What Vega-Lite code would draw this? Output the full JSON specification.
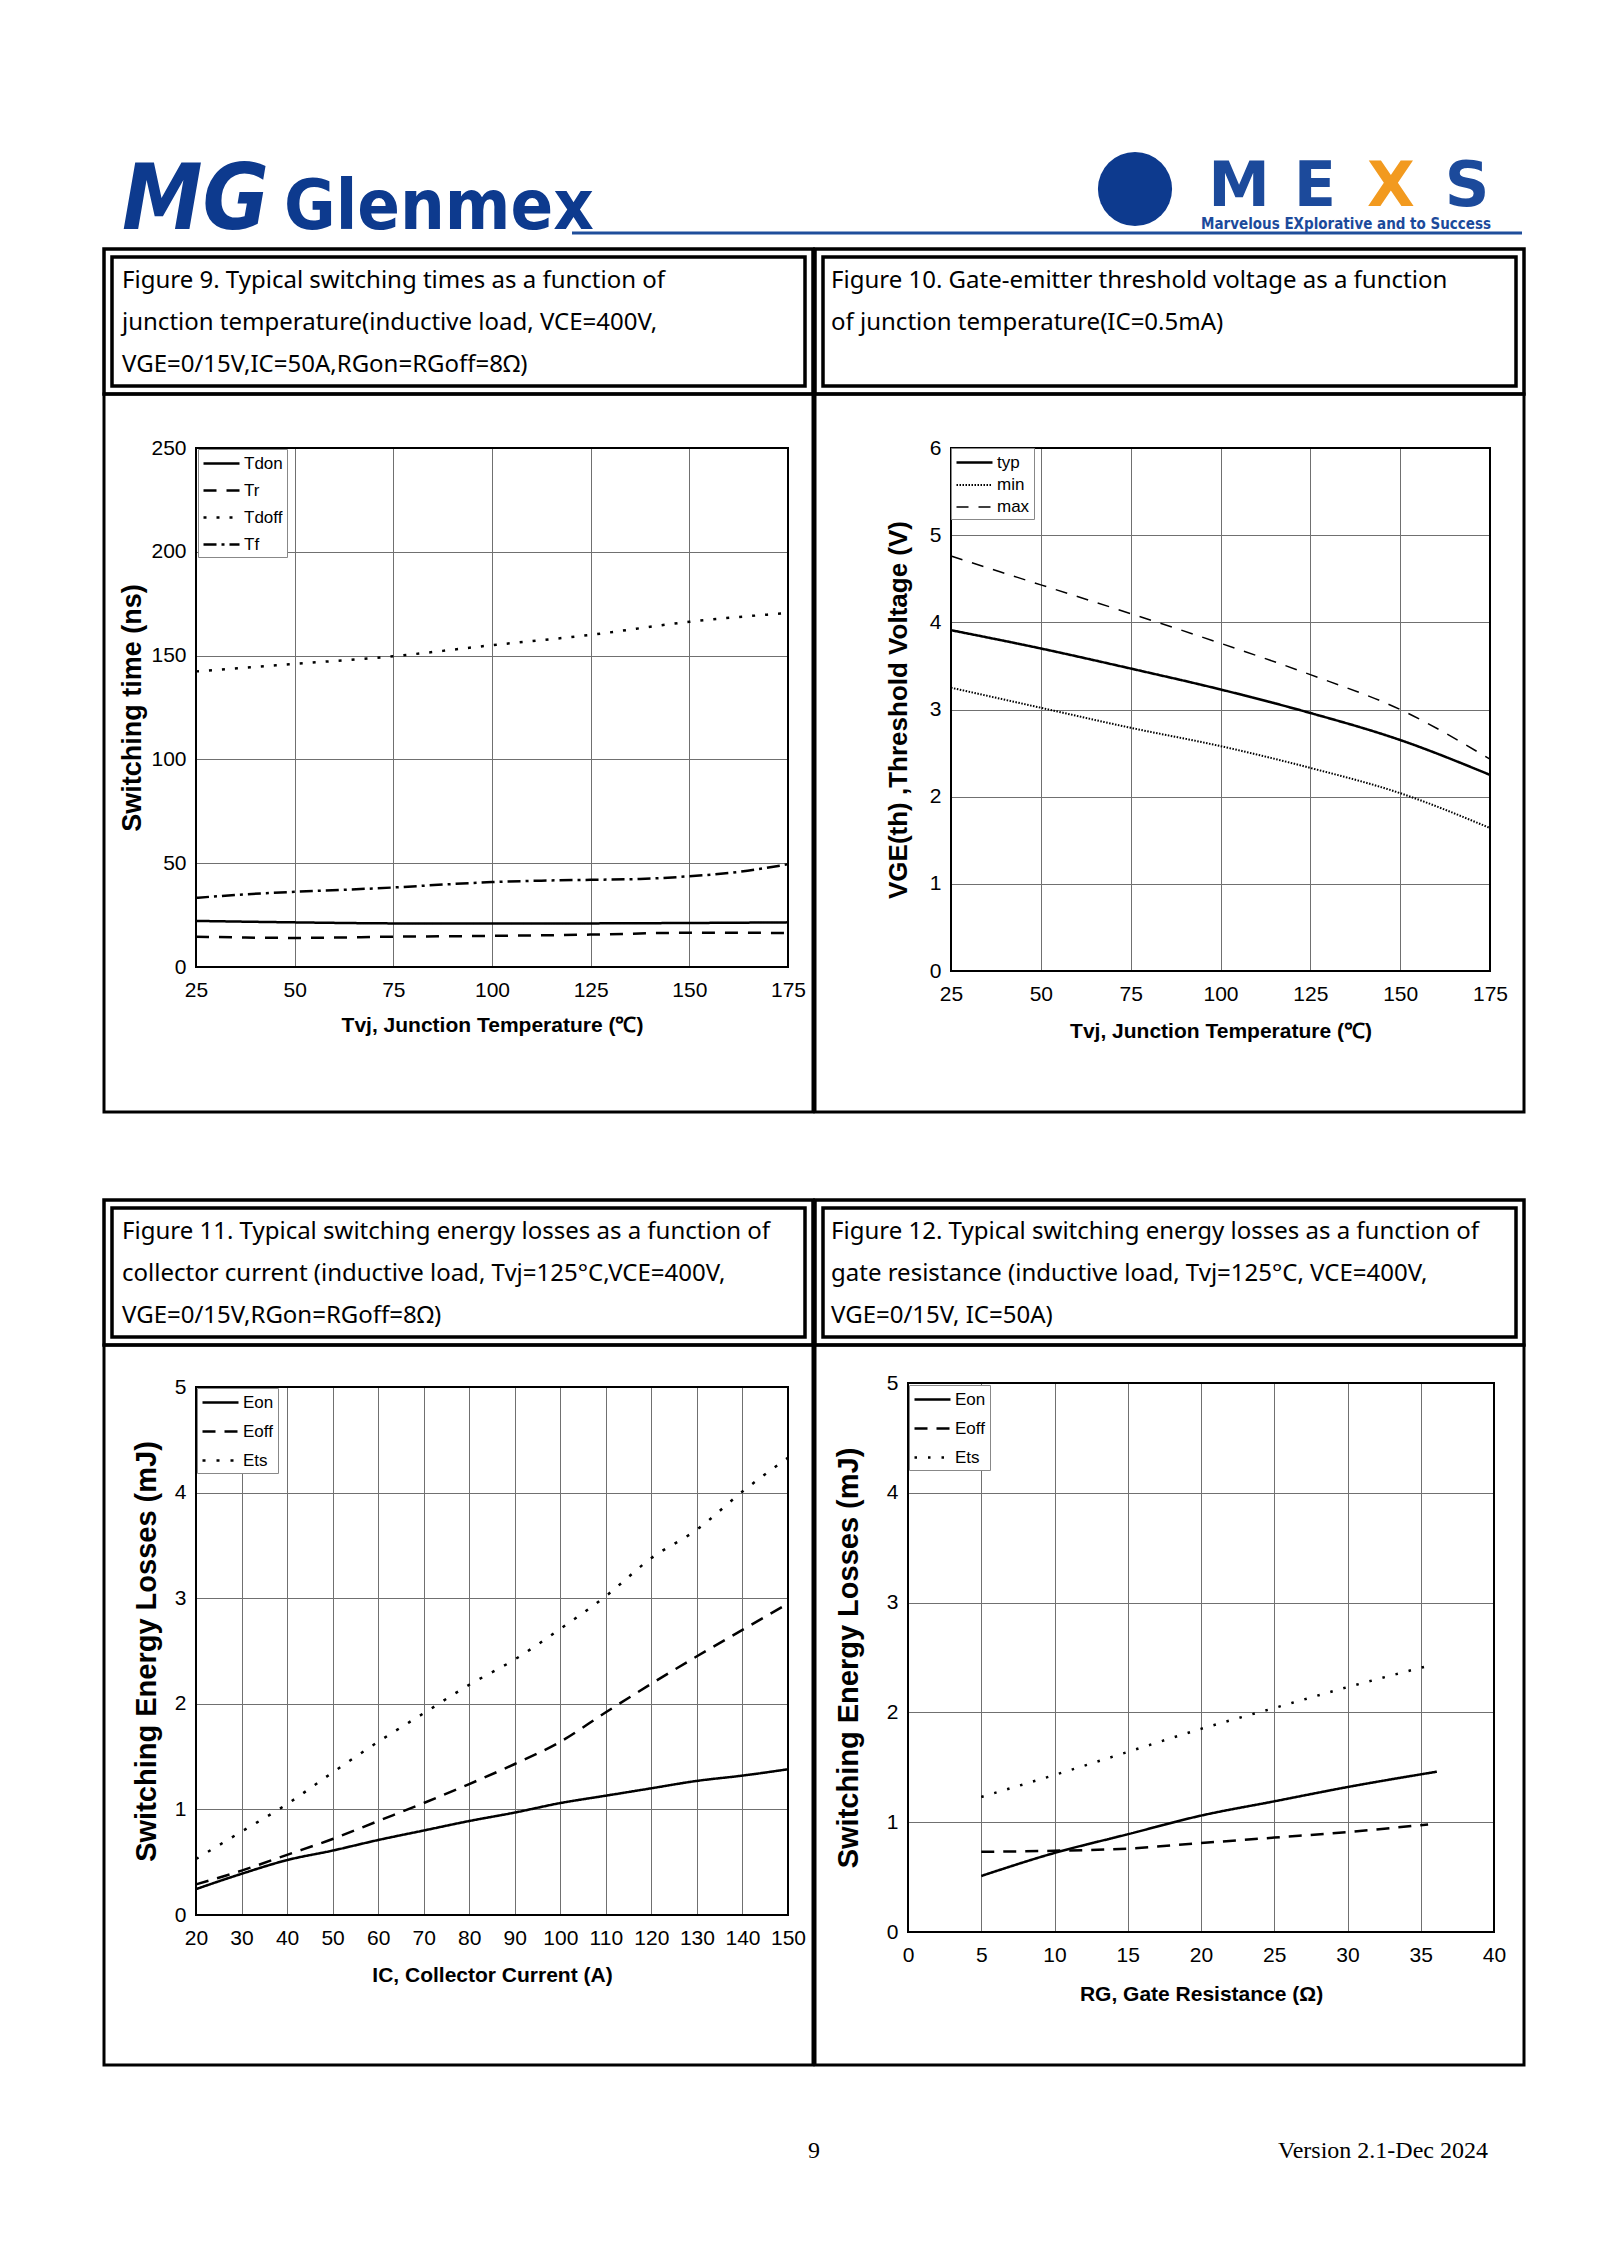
{
  "$schema": "https://vega.github.io/schema/vega-lite/v6.json",
  "background": "white",
  "padding": {"left": 102, "top": 0, "right": 80, "bottom": 0},
  "config": {
    "view": {"stroke": null},
    "font": "Liberation Sans",
    "axis": {"labelFont": "Liberation Sans", "labelFontSize": 21, "labelColor": "black", "titleFont": "Liberation Sans", "titleFontSize": 21, "titleFontWeight": "bold", "titleColor": "black", "grid": false, "gridColor": "#707070", "gridWidth": 1, "ticks": false, "domain": false, "labelPadding": 10, "labelFlush": false, "labelOverlap": false, "format": "d"},
    "axisBottom": {"labelPadding": 12},
    "legend": {"labelFont": "Liberation Sans", "labelFontSize": 17, "labelColor": "black", "symbolType": "M-1,0H3", "symbolStrokeColor": "black", "symbolStrokeWidth": 2.5, "symbolSize": 324, "fillColor": "white", "strokeColor": "#888888", "padding": 4, "labelOffset": 21}
  },
  "resolve": {"scale": {"strokeDash": "independent", "strokeWidth": "independent"}, "legend": {"strokeDash": "independent", "strokeWidth": "independent"}},
  "spacing": 0,
  "vconcat": [
    {
      "width": 1418, "height": 247,
      "layer": [
        {"data": {"values": [{}]}, "mark": {"type": "text", "text": "MG", "font": "DejaVu Sans Condensed, Liberation Sans", "fontSize": 90, "fontWeight": "bold", "fontStyle": "italic", "color": "#0d3a8e", "align": "left", "baseline": "alphabetic"},
         "encoding": {"x": {"datum": 18, "type": "quantitative", "scale": {"domain": [0, 1418], "nice": false}, "axis": null}, "y": {"datum": 229, "type": "quantitative", "scale": {"domain": [0, 247], "reverse": true, "nice": false}, "axis": null}}},
        {"data": {"values": [{}]}, "mark": {"type": "text", "text": "Glenmex", "font": "DejaVu Sans Condensed, Liberation Sans", "fontSize": 70, "fontWeight": "bold", "color": "#0d3a8e", "align": "left", "baseline": "alphabetic"},
         "encoding": {"x": {"datum": 180, "type": "quantitative"}, "y": {"datum": 229, "type": "quantitative"}}},
        {"data": {"values": [{}]}, "mark": {"type": "rule", "color": "#1f4e9b", "strokeWidth": 3},
         "encoding": {"x": {"datum": 468, "type": "quantitative"}, "x2": {"datum": 1418}, "y": {"datum": 233, "type": "quantitative"}}},
        {"data": {"values": [{}]}, "mark": {"type": "point", "shape": "circle", "filled": true, "size": 5500, "color": "#0d3a8e", "opacity": 1},
         "encoding": {"x": {"datum": 1031, "type": "quantitative"}, "y": {"datum": 189, "type": "quantitative"}}},
        {"data": {"values": [{}]}, "mark": {"type": "text", "text": "M", "font": "DejaVu Sans", "fontSize": 62, "fontWeight": "bold", "color": "#1c4a9b", "align": "center", "baseline": "alphabetic"},
         "encoding": {"x": {"datum": 1135, "type": "quantitative"}, "y": {"datum": 206, "type": "quantitative"}}},
        {"data": {"values": [{}]}, "mark": {"type": "text", "text": "E", "font": "DejaVu Sans", "fontSize": 62, "fontWeight": "bold", "color": "#1c4a9b", "align": "center", "baseline": "alphabetic"},
         "encoding": {"x": {"datum": 1211, "type": "quantitative"}, "y": {"datum": 206, "type": "quantitative"}}},
        {"data": {"values": [{}]}, "mark": {"type": "text", "text": "X", "font": "DejaVu Sans", "fontSize": 62, "fontWeight": "bold", "color": "#f29a1f", "align": "center", "baseline": "alphabetic"},
         "encoding": {"x": {"datum": 1287, "type": "quantitative"}, "y": {"datum": 206, "type": "quantitative"}}},
        {"data": {"values": [{}]}, "mark": {"type": "text", "text": "S", "font": "DejaVu Sans", "fontSize": 62, "fontWeight": "bold", "color": "#1c4a9b", "align": "center", "baseline": "alphabetic"},
         "encoding": {"x": {"datum": 1363, "type": "quantitative"}, "y": {"datum": 206, "type": "quantitative"}}},
        {"data": {"values": [{}]}, "mark": {"type": "text", "text": "Marvelous EXplorative and to Success", "font": "DejaVu Sans Condensed, Liberation Sans", "fontSize": 15, "fontWeight": "bold", "color": "#1c4a9b", "align": "left", "baseline": "alphabetic"},
         "encoding": {"x": {"datum": 1097, "type": "quantitative"}, "y": {"datum": 229, "type": "quantitative"}}}
      ]
    },
    {
      "spacing": 84,
      "resolve": {"scale": {"strokeDash": "independent", "strokeWidth": "independent"}, "legend": {"strokeDash": "independent", "strokeWidth": "independent"}},
      "vconcat": [
        {
          "spacing": -3,
          "resolve": {"scale": {"strokeDash": "independent", "strokeWidth": "independent"}, "legend": {"strokeDash": "independent", "strokeWidth": "independent"}},
          "hconcat": [
            {
              "spacing": 0, "bounds": "flush",
              "resolve": {"scale": {"strokeDash": "independent", "strokeWidth": "independent"}, "legend": {"strokeDash": "independent", "strokeWidth": "independent"}},
              "vconcat": [
                {
                  "width": 709, "height": 145,
                  "view": {"stroke": "black", "strokeWidth": 3.5},
                  "resolve": {"scale": {"y": "independent"}},
                  "layer": [
                    {"data": {"values": [{}]}, "mark": {"type": "rect", "fill": "transparent", "stroke": "black", "strokeWidth": 3.5},
                     "encoding": {"x": {"datum": 8, "type": "quantitative", "scale": {"domain": [0, 709], "nice": false}, "axis": null}, "x2": {"datum": 701}, "y": {"datum": 8, "type": "quantitative", "scale": {"domain": [0, 145], "reverse": true, "nice": false}, "axis": null}, "y2": {"datum": 137}}},
                    {"data": {"values": [
                      {"line": 1, "text": "Figure 9. Typical switching times as a function of"},
                      {"line": 2, "text": "junction temperature(inductive load, VCE=400V,"},
                      {"line": 3, "text": "VGE=0/15V,IC=50A,RGon=RGoff=8Ω)"}
                    ]},
                     "mark": {"type": "text", "align": "left", "baseline": "middle", "font": "Noto Sans", "fontSize": 24, "color": "black"},
                     "encoding": {"x": {"datum": 18, "type": "quantitative"}, "y": {"field": "line", "type": "ordinal", "scale": {"type": "point", "domain": [1, 2, 3], "range": [32, 116], "padding": 0}, "axis": null}, "text": {"field": "text"}}}
                  ]
                },
                {
                  "width": 709, "height": 718,
                  "view": {"stroke": "black", "strokeWidth": 3},
                  "resolve": {"axis": {"x": "independent"}},
                  "layer": [
                    {"data": {"values": [
                      {"t": 25, "v": 22.2, "s": "Tdon"}, {"t": 50, "v": 21.5, "s": "Tdon"}, {"t": 75, "v": 21.0, "s": "Tdon"}, {"t": 100, "v": 20.9, "s": "Tdon"}, {"t": 125, "v": 21.0, "s": "Tdon"}, {"t": 150, "v": 21.2, "s": "Tdon"}, {"t": 175, "v": 21.5, "s": "Tdon"},
                      {"t": 25, "v": 14.6, "s": "Tr"}, {"t": 37.5, "v": 14.2, "s": "Tr"}, {"t": 50, "v": 14.0, "s": "Tr"}, {"t": 75, "v": 14.6, "s": "Tr"}, {"t": 100, "v": 15.0, "s": "Tr"}, {"t": 125, "v": 15.6, "s": "Tr"}, {"t": 150, "v": 16.5, "s": "Tr"}, {"t": 175, "v": 16.4, "s": "Tr"},
                      {"t": 25, "v": 142.4, "s": "Tdoff"}, {"t": 50, "v": 146.0, "s": "Tdoff"}, {"t": 75, "v": 149.7, "s": "Tdoff"}, {"t": 100, "v": 155.0, "s": "Tdoff"}, {"t": 125, "v": 160.0, "s": "Tdoff"}, {"t": 150, "v": 166.3, "s": "Tdoff"}, {"t": 175, "v": 170.5, "s": "Tdoff"},
                      {"t": 25, "v": 33.3, "s": "Tf"}, {"t": 37.5, "v": 35.0, "s": "Tf"}, {"t": 50, "v": 36.2, "s": "Tf"}, {"t": 62.5, "v": 37.2, "s": "Tf"}, {"t": 75, "v": 38.3, "s": "Tf"}, {"t": 87.5, "v": 39.7, "s": "Tf"}, {"t": 100, "v": 40.9, "s": "Tf"}, {"t": 112.5, "v": 41.6, "s": "Tf"}, {"t": 125, "v": 42.0, "s": "Tf"}, {"t": 137.5, "v": 42.4, "s": "Tf"}, {"t": 150, "v": 43.7, "s": "Tf"}, {"t": 162.5, "v": 45.8, "s": "Tf"}, {"t": 175, "v": 49.5, "s": "Tf"}
                    ]},
                     "mark": {"type": "line", "color": "black", "strokeWidth": 2.5, "strokeCap": "butt", "interpolate": "monotone"},
                     "encoding": {
                       "x": {"field": "t", "type": "quantitative", "scale": {"domain": [25, 175], "range": [92, 684], "nice": false, "zero": false}, "axis": {"orient": "bottom", "values": [25, 50, 75, 100, 125, 150, 175], "offset": -145, "title": "Tvj, Junction Temperature (℃)", "titlePadding": 14}},
                       "y": {"field": "v", "type": "quantitative", "scale": {"domain": [0, 250], "range": [573, 54], "nice": false, "zero": false}, "axis": {"values": [0, 50, 100, 150, 200, 250], "offset": -92, "grid": true, "title": "Switching time (ns)", "titleFontSize": 27, "titlePadding": 4}},
                       "strokeDash": {"field": "s", "type": "nominal", "scale": {"domain": ["Tdon", "Tr", "Tdoff", "Tf"], "range": [[1, 0], [13, 10], [3, 10], [13, 5, 3, 5]]}, "legend": {"orient": "none", "legendX": 94, "legendY": 55, "title": null, "rowPadding": 8}}
                     }},
                    {"data": {"values": [{}]}, "mark": {"type": "rect", "fill": "transparent", "stroke": "black", "strokeWidth": 2},
                     "encoding": {"x": {"datum": 25, "axis": {"orient": "top", "offset": -54, "grid": true, "labels": false, "title": null, "values": [25, 50, 75, 100, 125, 150, 175]}}, "x2": {"datum": 175}, "y": {"datum": 0}, "y2": {"datum": 250}}}
                  ]
                }
              ]
            },
            {
              "spacing": 0, "bounds": "flush",
              "resolve": {"scale": {"strokeDash": "independent", "strokeWidth": "independent"}, "legend": {"strokeDash": "independent", "strokeWidth": "independent"}},
              "vconcat": [
                {
                  "width": 709, "height": 145,
                  "view": {"stroke": "black", "strokeWidth": 3.5},
                  "resolve": {"scale": {"y": "independent"}},
                  "layer": [
                    {"data": {"values": [{}]}, "mark": {"type": "rect", "fill": "transparent", "stroke": "black", "strokeWidth": 3.5},
                     "encoding": {"x": {"datum": 8, "type": "quantitative", "scale": {"domain": [0, 709], "nice": false}, "axis": null}, "x2": {"datum": 701}, "y": {"datum": 8, "type": "quantitative", "scale": {"domain": [0, 145], "reverse": true, "nice": false}, "axis": null}, "y2": {"datum": 137}}},
                    {"data": {"values": [
                      {"line": 1, "text": "Figure 10. Gate-emitter threshold voltage as a function"},
                      {"line": 2, "text": "of junction temperature(IC=0.5mA)"}
                    ]},
                     "mark": {"type": "text", "align": "left", "baseline": "middle", "font": "Noto Sans", "fontSize": 24, "color": "black"},
                     "encoding": {"x": {"datum": 16, "type": "quantitative"}, "y": {"field": "line", "type": "ordinal", "scale": {"type": "point", "domain": [1, 2, 3], "range": [32, 116], "padding": 0}, "axis": null}, "text": {"field": "text"}}}
                  ]
                },
                {
                  "width": 709, "height": 718,
                  "view": {"stroke": "black", "strokeWidth": 3},
                  "resolve": {"axis": {"x": "independent"}},
                  "layer": [
                    {"data": {"values": [
                      {"t": 25, "v": 3.91, "s": "typ"}, {"t": 50, "v": 3.70, "s": "typ"}, {"t": 75, "v": 3.47, "s": "typ"}, {"t": 100, "v": 3.23, "s": "typ"}, {"t": 125, "v": 2.96, "s": "typ"}, {"t": 150, "v": 2.65, "s": "typ"}, {"t": 175, "v": 2.25, "s": "typ"},
                      {"t": 25, "v": 3.25, "s": "min"}, {"t": 50, "v": 3.02, "s": "min"}, {"t": 75, "v": 2.79, "s": "min"}, {"t": 100, "v": 2.58, "s": "min"}, {"t": 125, "v": 2.33, "s": "min"}, {"t": 150, "v": 2.04, "s": "min"}, {"t": 175, "v": 1.64, "s": "min"},
                      {"t": 25, "v": 4.76, "s": "max"}, {"t": 50, "v": 4.43, "s": "max"}, {"t": 75, "v": 4.10, "s": "max"}, {"t": 100, "v": 3.76, "s": "max"}, {"t": 125, "v": 3.40, "s": "max"}, {"t": 150, "v": 3.00, "s": "max"}, {"t": 175, "v": 2.43, "s": "max"}
                    ]},
                     "mark": {"type": "line", "color": "black", "strokeCap": "butt", "interpolate": "monotone"},
                     "encoding": {
                       "x": {"field": "t", "type": "quantitative", "scale": {"domain": [25, 175], "range": [136, 675], "nice": false, "zero": false}, "axis": {"orient": "bottom", "values": [25, 50, 75, 100, 125, 150, 175], "offset": -141, "title": "Tvj, Junction Temperature (℃)", "titlePadding": 16}},
                       "y": {"field": "v", "type": "quantitative", "scale": {"domain": [0, 6], "range": [577, 54], "nice": false, "zero": false}, "axis": {"values": [0, 1, 2, 3, 4, 5, 6], "offset": -136, "grid": true, "title": "VGE(th) ,Threshold Voltage (V)", "titleFontSize": 26, "titlePadding": 18}},
                       "strokeDash": {"field": "s", "type": "nominal", "scale": {"domain": ["typ", "min", "max"], "range": [[1, 0], [1.5, 1.5], [12, 10]]}, "legend": {"orient": "none", "legendX": 136, "legendY": 54, "title": null, "rowPadding": 4}},
                       "strokeWidth": {"field": "s", "type": "nominal", "scale": {"domain": ["typ", "min", "max"], "range": [2.5, 1.5, 2.5]}, "legend": null}
                     }},
                    {"data": {"values": [{}]}, "mark": {"type": "rect", "fill": "transparent", "stroke": "black", "strokeWidth": 2},
                     "encoding": {"x": {"datum": 25, "axis": {"orient": "top", "offset": -54, "grid": true, "labels": false, "title": null, "values": [25, 50, 75, 100, 125, 150, 175]}}, "x2": {"datum": 175}, "y": {"datum": 0}, "y2": {"datum": 6}}}
                  ]
                }
              ]
            }
          ]
        },
        {
          "spacing": -3,
          "resolve": {"scale": {"strokeDash": "independent", "strokeWidth": "independent"}, "legend": {"strokeDash": "independent", "strokeWidth": "independent"}},
          "hconcat": [
            {
              "spacing": 0, "bounds": "flush",
              "resolve": {"scale": {"strokeDash": "independent", "strokeWidth": "independent"}, "legend": {"strokeDash": "independent", "strokeWidth": "independent"}},
              "vconcat": [
                {
                  "width": 709, "height": 145,
                  "view": {"stroke": "black", "strokeWidth": 3.5},
                  "resolve": {"scale": {"y": "independent"}},
                  "layer": [
                    {"data": {"values": [{}]}, "mark": {"type": "rect", "fill": "transparent", "stroke": "black", "strokeWidth": 3.5},
                     "encoding": {"x": {"datum": 8, "type": "quantitative", "scale": {"domain": [0, 709], "nice": false}, "axis": null}, "x2": {"datum": 701}, "y": {"datum": 8, "type": "quantitative", "scale": {"domain": [0, 145], "reverse": true, "nice": false}, "axis": null}, "y2": {"datum": 137}}},
                    {"data": {"values": [
                      {"line": 1, "text": "Figure 11. Typical switching energy losses as a function of"},
                      {"line": 2, "text": "collector current (inductive load, Tvj=125°C,VCE=400V,"},
                      {"line": 3, "text": "VGE=0/15V,RGon=RGoff=8Ω)"}
                    ]},
                     "mark": {"type": "text", "align": "left", "baseline": "middle", "font": "Noto Sans", "fontSize": 24, "color": "black"},
                     "encoding": {"x": {"datum": 18, "type": "quantitative"}, "y": {"field": "line", "type": "ordinal", "scale": {"type": "point", "domain": [1, 2, 3], "range": [32, 116], "padding": 0}, "axis": null}, "text": {"field": "text"}}}
                  ]
                },
                {
                  "width": 709, "height": 720,
                  "view": {"stroke": "black", "strokeWidth": 3},
                  "resolve": {"axis": {"x": "independent"}},
                  "layer": [
                    {"data": {"values": [
                      {"i": 20, "e": 0.245, "s": "Eon"}, {"i": 30, "e": 0.39, "s": "Eon"}, {"i": 40, "e": 0.52, "s": "Eon"}, {"i": 50, "e": 0.61, "s": "Eon"}, {"i": 60, "e": 0.71, "s": "Eon"}, {"i": 70, "e": 0.80, "s": "Eon"}, {"i": 80, "e": 0.89, "s": "Eon"}, {"i": 90, "e": 0.97, "s": "Eon"}, {"i": 100, "e": 1.06, "s": "Eon"}, {"i": 110, "e": 1.13, "s": "Eon"}, {"i": 120, "e": 1.20, "s": "Eon"}, {"i": 130, "e": 1.27, "s": "Eon"}, {"i": 140, "e": 1.32, "s": "Eon"}, {"i": 150, "e": 1.38, "s": "Eon"},
                      {"i": 20, "e": 0.29, "s": "Eoff"}, {"i": 30, "e": 0.42, "s": "Eoff"}, {"i": 40, "e": 0.57, "s": "Eoff"}, {"i": 50, "e": 0.72, "s": "Eoff"}, {"i": 60, "e": 0.89, "s": "Eoff"}, {"i": 70, "e": 1.06, "s": "Eoff"}, {"i": 80, "e": 1.24, "s": "Eoff"}, {"i": 90, "e": 1.43, "s": "Eoff"}, {"i": 100, "e": 1.64, "s": "Eoff"}, {"i": 110, "e": 1.92, "s": "Eoff"}, {"i": 120, "e": 2.19, "s": "Eoff"}, {"i": 130, "e": 2.45, "s": "Eoff"}, {"i": 140, "e": 2.70, "s": "Eoff"}, {"i": 150, "e": 2.95, "s": "Eoff"},
                      {"i": 20, "e": 0.53, "s": "Ets"}, {"i": 30, "e": 0.79, "s": "Ets"}, {"i": 40, "e": 1.05, "s": "Ets"}, {"i": 50, "e": 1.35, "s": "Ets"}, {"i": 60, "e": 1.64, "s": "Ets"}, {"i": 70, "e": 1.91, "s": "Ets"}, {"i": 80, "e": 2.18, "s": "Ets"}, {"i": 90, "e": 2.42, "s": "Ets"}, {"i": 100, "e": 2.71, "s": "Ets"}, {"i": 110, "e": 3.02, "s": "Ets"}, {"i": 120, "e": 3.38, "s": "Ets"}, {"i": 130, "e": 3.65, "s": "Ets"}, {"i": 140, "e": 4.01, "s": "Ets"}, {"i": 150, "e": 4.33, "s": "Ets"}
                    ]},
                     "mark": {"type": "line", "color": "black", "strokeWidth": 2.5, "strokeCap": "butt", "interpolate": "monotone"},
                     "encoding": {
                       "x": {"field": "i", "type": "quantitative", "scale": {"domain": [20, 150], "range": [92, 684], "nice": false, "zero": false}, "axis": {"orient": "bottom", "values": [20, 30, 40, 50, 60, 70, 80, 90, 100, 110, 120, 130, 140, 150], "offset": -150, "title": "IC, Collector Current (A)", "titlePadding": 16}},
                       "y": {"field": "e", "type": "quantitative", "scale": {"domain": [0, 5], "range": [570, 42], "nice": false, "zero": false}, "axis": {"values": [0, 1, 2, 3, 4, 5], "offset": -92, "grid": true, "title": "Switching Energy Losses (mJ)", "titleFontSize": 29, "titlePadding": 13}},
                       "strokeDash": {"field": "s", "type": "nominal", "scale": {"domain": ["Eon", "Eoff", "Ets"], "range": [[1, 0], [13, 9], [3, 11]]}, "legend": {"orient": "none", "legendX": 93, "legendY": 43, "title": null, "rowPadding": 10}}
                     }},
                    {"data": {"values": [{}]}, "mark": {"type": "rect", "fill": "transparent", "stroke": "black", "strokeWidth": 2},
                     "encoding": {"x": {"datum": 20, "axis": {"orient": "top", "offset": -42, "grid": true, "labels": false, "title": null, "values": [20, 30, 40, 50, 60, 70, 80, 90, 100, 110, 120, 130, 140, 150]}}, "x2": {"datum": 150}, "y": {"datum": 0}, "y2": {"datum": 5}}}
                  ]
                }
              ]
            },
            {
              "spacing": 0, "bounds": "flush",
              "resolve": {"scale": {"strokeDash": "independent", "strokeWidth": "independent"}, "legend": {"strokeDash": "independent", "strokeWidth": "independent"}},
              "vconcat": [
                {
                  "width": 709, "height": 145,
                  "view": {"stroke": "black", "strokeWidth": 3.5},
                  "resolve": {"scale": {"y": "independent"}},
                  "layer": [
                    {"data": {"values": [{}]}, "mark": {"type": "rect", "fill": "transparent", "stroke": "black", "strokeWidth": 3.5},
                     "encoding": {"x": {"datum": 8, "type": "quantitative", "scale": {"domain": [0, 709], "nice": false}, "axis": null}, "x2": {"datum": 701}, "y": {"datum": 8, "type": "quantitative", "scale": {"domain": [0, 145], "reverse": true, "nice": false}, "axis": null}, "y2": {"datum": 137}}},
                    {"data": {"values": [
                      {"line": 1, "text": "Figure 12. Typical switching energy losses as a function of"},
                      {"line": 2, "text": "gate resistance (inductive load, Tvj=125°C, VCE=400V,"},
                      {"line": 3, "text": "VGE=0/15V, IC=50A)"}
                    ]},
                     "mark": {"type": "text", "align": "left", "baseline": "middle", "font": "Noto Sans", "fontSize": 24, "color": "black"},
                     "encoding": {"x": {"datum": 16, "type": "quantitative"}, "y": {"field": "line", "type": "ordinal", "scale": {"type": "point", "domain": [1, 2, 3], "range": [32, 116], "padding": 0}, "axis": null}, "text": {"field": "text"}}}
                  ]
                },
                {
                  "width": 709, "height": 720,
                  "view": {"stroke": "black", "strokeWidth": 3},
                  "resolve": {"axis": {"x": "independent"}},
                  "layer": [
                    {"data": {"values": [
                      {"r": 5, "e": 0.51, "s": "Eon"}, {"r": 10, "e": 0.72, "s": "Eon"}, {"r": 15, "e": 0.89, "s": "Eon"}, {"r": 20, "e": 1.06, "s": "Eon"}, {"r": 25, "e": 1.19, "s": "Eon"}, {"r": 30, "e": 1.32, "s": "Eon"}, {"r": 36.1, "e": 1.46, "s": "Eon"},
                      {"r": 5, "e": 0.73, "s": "Eoff"}, {"r": 10, "e": 0.74, "s": "Eoff"}, {"r": 15, "e": 0.76, "s": "Eoff"}, {"r": 20, "e": 0.81, "s": "Eoff"}, {"r": 25, "e": 0.86, "s": "Eoff"}, {"r": 30, "e": 0.91, "s": "Eoff"}, {"r": 35.5, "e": 0.98, "s": "Eoff"},
                      {"r": 5, "e": 1.23, "s": "Ets"}, {"r": 10, "e": 1.43, "s": "Ets"}, {"r": 15, "e": 1.64, "s": "Ets"}, {"r": 20, "e": 1.85, "s": "Ets"}, {"r": 25, "e": 2.04, "s": "Ets"}, {"r": 30, "e": 2.23, "s": "Ets"}, {"r": 35.4, "e": 2.42, "s": "Ets"}
                    ]},
                     "mark": {"type": "line", "color": "black", "strokeCap": "butt", "interpolate": "monotone"},
                     "encoding": {
                       "x": {"field": "r", "type": "quantitative", "scale": {"domain": [0, 40], "range": [93, 679], "nice": false, "zero": false}, "axis": {"orient": "bottom", "values": [0, 5, 10, 15, 20, 25, 30, 35, 40], "offset": -133, "title": "RG, Gate Resistance (Ω)", "titlePadding": 18}},
                       "y": {"field": "e", "type": "quantitative", "scale": {"domain": [0, 5], "range": [587, 38], "nice": false, "zero": false}, "axis": {"values": [0, 1, 2, 3, 4, 5], "offset": -93, "grid": true, "title": "Switching Energy Losses (mJ)", "titleFontSize": 29, "titlePadding": 23}},
                       "strokeDash": {"field": "s", "type": "nominal", "scale": {"domain": ["Eon", "Eoff", "Ets"], "range": [[1, 0], [13, 9], [2.5, 11]]}, "legend": {"orient": "none", "legendX": 94, "legendY": 40, "title": null, "rowPadding": 10}},
                       "strokeWidth": {"field": "s", "type": "nominal", "scale": {"domain": ["Eon", "Eoff", "Ets"], "range": [2.5, 2.5, 2]}, "legend": null}
                     }},
                    {"data": {"values": [{}]}, "mark": {"type": "rect", "fill": "transparent", "stroke": "black", "strokeWidth": 2},
                     "encoding": {"x": {"datum": 0, "axis": {"orient": "top", "offset": -38, "grid": true, "labels": false, "title": null, "values": [0, 5, 10, 15, 20, 25, 30, 35, 40]}}, "x2": {"datum": 40}, "y": {"datum": 0}, "y2": {"datum": 5}}}
                  ]
                }
              ]
            }
          ]
        }
      ]
    },
    {
      "width": 1418, "height": 140,
      "layer": [
        {"data": {"values": [{}]}, "mark": {"type": "text", "text": "9", "font": "Liberation Serif", "fontSize": 24, "color": "black", "align": "center", "baseline": "middle"},
         "encoding": {"x": {"datum": 710, "type": "quantitative", "scale": {"domain": [0, 1418], "nice": false}, "axis": null}, "y": {"datum": 84, "type": "quantitative", "scale": {"domain": [0, 140], "reverse": true, "nice": false}, "axis": null}}},
        {"data": {"values": [{}]}, "mark": {"type": "text", "text": "Version 2.1-Dec 2024", "font": "Liberation Serif", "fontSize": 24, "color": "black", "align": "right", "baseline": "middle"},
         "encoding": {"x": {"datum": 1384, "type": "quantitative"}, "y": {"datum": 84, "type": "quantitative"}}}
      ]
    }
  ]
}
